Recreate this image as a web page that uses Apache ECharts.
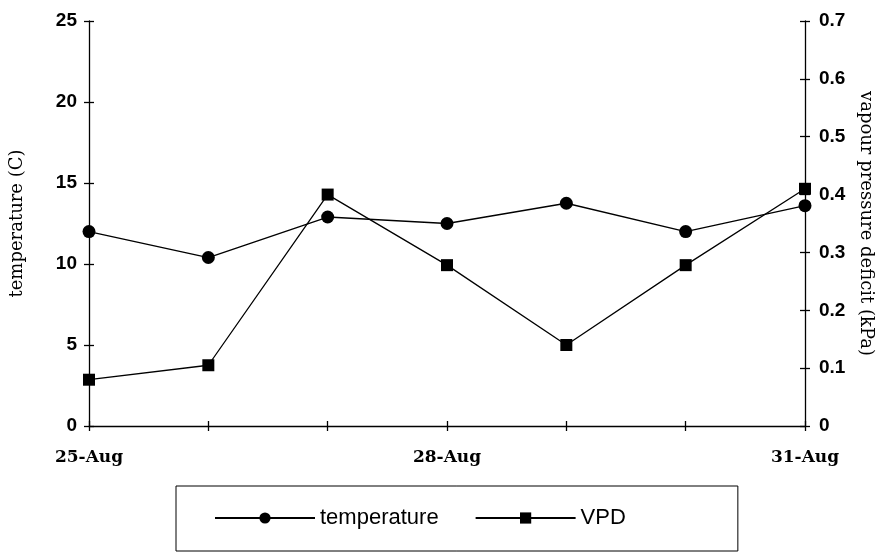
<!DOCTYPE html>
<html>
<head>
<meta charset="utf-8">
<script src="https://cdn.jsdelivr.net/npm/echarts@6/dist/echarts.min.js"></script>
<style>html,body{margin:0;padding:0;background:#fff;}#c{width:885px;height:555px;}</style>
</head>
<body>
<div id="c"></div>
<script>
const categories = ['25-Aug', '26-Aug', '27-Aug', '28-Aug', '29-Aug', '30-Aug', '31-Aug'];
const temperature = [12.0, 10.4, 12.9, 12.5, 13.75, 12.0, 13.6];
const vpd = [0.08, 0.105, 0.40, 0.278, 0.14, 0.278, 0.41];
const tempTicks = [0, 5, 10, 15, 20, 25];
const vpdTicks = [0, 0.1, 0.2, 0.3, 0.4, 0.5, 0.6, 0.7];

const chart = echarts.init(document.getElementById('c'), null, {renderer: 'canvas'});
const tickFont = {fontFamily: 'Liberation Sans', fontWeight: 'bold', fontSize: 19, color: '#000'};
const nameFont = {fontFamily: 'DejaVu Serif', fontSize: 18, color: '#000'};
const lineStyle = {color: '#000', width: 1.3};

chart.setOption({
  animation: false,
  backgroundColor: '#fff',
  grid: {left: 89, right: 80, top: 21, bottom: 129},
  legend: {
    left: 176, top: 486,
    padding: [21, 112, 22, 38],
    borderColor: '#000', borderWidth: 1,
    itemWidth: 100, itemHeight: 14, itemGap: 36,
    textStyle: {fontFamily: 'Liberation Sans', fontSize: 22, color: '#000'},
    data: ['temperature', 'VPD']
  },
  xAxis: [{
    type: 'category', data: categories, boundaryGap: false,
    axisLine: {lineStyle: lineStyle},
    axisTick: {interval: 0, length: 5, lineStyle: lineStyle},
    axisLabel: {interval: 2, margin: 23, fontFamily: 'DejaVu Serif', fontWeight: 'bold', fontSize: 17, color: '#000'}
  }, {
    type: 'category', data: categories, boundaryGap: false, position: 'bottom',
    axisLine: {show: false},
    axisTick: {interval: 0, inside: true, length: 5, lineStyle: lineStyle},
    axisLabel: {show: false}
  }],
  yAxis: [{
    type: 'value', min: 0, max: 25, interval: 5, position: 'left',
    name: 'temperature (C)', nameLocation: 'middle', nameGap: 63, nameRotate: 90,
    nameTextStyle: nameFont,
    axisLine: {show: true, lineStyle: lineStyle},
    axisTick: {show: true, length: 5, lineStyle: lineStyle},
    axisLabel: Object.assign({margin: 12, formatter: v => tempTicks.includes(v) ? String(v) : ''}, tickFont),
    splitLine: {show: false}
  }, {
    type: 'value', min: 0, max: 0.7, interval: 0.1, position: 'right',
    name: 'vapour pressure deficit (kPa)', nameLocation: 'middle', nameGap: 44, nameRotate: -90,
    nameTextStyle: nameFont,
    axisLine: {show: true, lineStyle: lineStyle},
    axisTick: {show: true, length: 5, lineStyle: lineStyle},
    axisLabel: Object.assign({margin: 14, formatter: v => {
      const r = Math.round(v * 10) / 10;
      return vpdTicks.includes(r) ? (r === 0 ? '0' : r.toFixed(1)) : '';
    }}, tickFont),
    splitLine: {show: false}
  }, {
    type: 'value', min: 0, max: 25, interval: 5, position: 'left',
    axisLine: {show: false}, axisTick: {show: true, inside: true, length: 5, lineStyle: lineStyle},
    axisLabel: {show: false}, splitLine: {show: false}
  }, {
    type: 'value', min: 0, max: 0.7, interval: 0.1, position: 'right',
    axisLine: {show: false}, axisTick: {show: true, inside: true, length: 5, lineStyle: lineStyle},
    axisLabel: {show: false}, splitLine: {show: false}
  }],
  series: [{
    name: 'temperature', type: 'line', yAxisIndex: 0, data: temperature,
    symbol: 'circle', symbolSize: 13,
    lineStyle: lineStyle, itemStyle: {color: '#000'}
  }, {
    name: 'VPD', type: 'line', yAxisIndex: 1, data: vpd,
    symbol: 'rect', symbolSize: 12,
    lineStyle: lineStyle, itemStyle: {color: '#000'}
  }]
});
</script>
</body>
</html>
